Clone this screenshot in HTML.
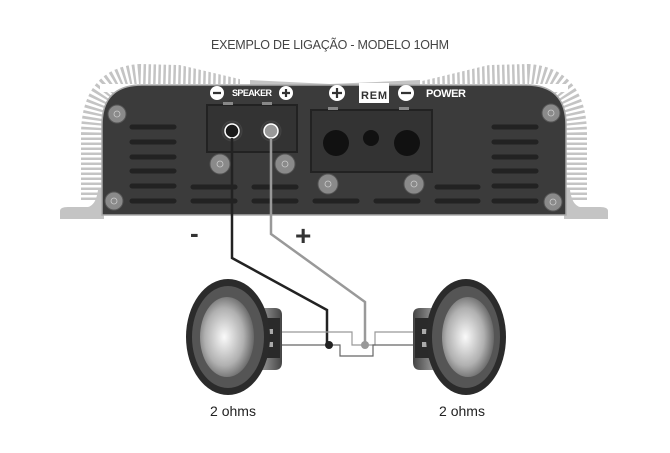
<!DOCTYPE html>
<html><head><meta charset="utf-8"><style>html,body{margin:0;padding:0;background:#fff}svg{display:block}</style></head>
<body>
<svg width="670" height="453" viewBox="0 0 670 453" xmlns="http://www.w3.org/2000/svg" font-family="Liberation Sans, sans-serif">
<defs>
<radialGradient id="cone" cx="0.45" cy="0.5" r="0.6"><stop offset="0" stop-color="#fafafa"/><stop offset="0.6" stop-color="#b0b0b0"/><stop offset="1" stop-color="#555"/></radialGradient>
<linearGradient id="mag" x1="0" y1="0" x2="1" y2="0"><stop offset="0" stop-color="#333"/><stop offset="0.5" stop-color="#999"/><stop offset="1" stop-color="#444"/></linearGradient>
<linearGradient id="mag2" x1="1" y1="0" x2="0" y2="0"><stop offset="0" stop-color="#333"/><stop offset="0.5" stop-color="#999"/><stop offset="1" stop-color="#444"/></linearGradient>
</defs>
<text x="211" y="49" font-size="12.5" fill="#444" textLength="238">EXEMPLO DE LIGAÇÃO - MODELO 1OHM</text>

<!-- fins -->
<g fill="none" stroke="#c4c4c4" stroke-dasharray="2.5 2.5">
<path d="M92 200 L92 135 Q92 78 140 75 L250 78" stroke-width="22"/>
<path d="M576 200 L576 135 Q576 78 528 75 L420 78" stroke-width="22"/>
</g>
<polygon points="150,58 252,58 252,82" fill="#fff"/>
<polygon points="518,58 418,58 418,82" fill="#fff"/>
<rect x="100" y="84" width="468" height="8" fill="#fff"/>
<rect x="240" y="64" width="180" height="22" fill="#fff"/>
<path d="M250 86 L250 80 L330 84 L420 80 L420 86Z" fill="#c4c4c4"/>
<!-- flanges -->
<path d="M60 219 L60 211 Q60 207 68 207 L88 207 Q96 205 98 190 L104 190 L104 219Z" fill="#c4c4c4"/>
<path d="M608 219 L608 211 Q608 207 600 207 L580 207 Q572 205 570 190 L564 190 L564 219Z" fill="#c4c4c4"/>
<!-- body -->
<path d="M102 215 L102 125 Q102 85 142 85 L526 85 Q566 85 566 125 L566 215Z" fill="#3b3b3b" stroke="#aaa" stroke-width="1.5"/>
<!-- vents -->
<g stroke="#222" stroke-width="5" stroke-linecap="round">
<path d="M132 127H174M132 142H174M132 157H174M132 171H174M132 186H174M132 201H174"/>
<path d="M494 127H536M494 142H536M494 157H536M494 171H536M494 186H536M494 201H536"/>
<path d="M193 187H235M254 187H296M437 187H478"/>
<path d="M193 201H235M254 201H296M315 201H357M376 201H418M437 201H478"/>
</g>
<!-- boxes -->
<rect x="207" y="105" width="90" height="47" fill="#333" stroke="#222" stroke-width="2"/>
<rect x="311" y="110" width="121" height="62" fill="#333" stroke="#222" stroke-width="2"/>
<g fill="#888"><rect x="223" y="102" width="10" height="3"/><rect x="262" y="102" width="10" height="3"/><rect x="328" y="107" width="10" height="3"/><rect x="399" y="107" width="10" height="3"/></g>
<circle cx="336" cy="143" r="13" fill="#111"/><circle cx="371" cy="138" r="8" fill="#111"/><circle cx="407" cy="143" r="13" fill="#111"/>
<circle cx="232" cy="131" r="10" fill="#3a3a3a" stroke="#444"/><circle cx="271" cy="131" r="10" fill="#3a3a3a" stroke="#444"/>
<circle cx="232" cy="131" r="7" fill="#1a1a1a" stroke="#fff" stroke-width="1.5"/>
<circle cx="271" cy="131" r="7" fill="#999" stroke="#fff" stroke-width="1.5"/>
<!-- screws -->
<g fill="#8a8a8a" stroke="#555" stroke-width="1">
<circle cx="117" cy="114" r="9"/><circle cx="114" cy="201" r="9"/><circle cx="551" cy="113" r="9"/><circle cx="553" cy="202" r="9"/>
<circle cx="220" cy="164" r="10"/><circle cx="285" cy="164" r="10"/><circle cx="328" cy="184" r="10"/><circle cx="414" cy="184" r="10"/>
</g>
<g fill="none" stroke="#ccc" stroke-width="0.8">
<circle cx="117" cy="114" r="3"/><circle cx="114" cy="201" r="3"/><circle cx="551" cy="113" r="3"/><circle cx="553" cy="202" r="3"/>
<circle cx="220" cy="164" r="3"/><circle cx="285" cy="164" r="3"/><circle cx="328" cy="184" r="3"/><circle cx="414" cy="184" r="3"/>
</g>
<!-- labels -->
<g fill="#fff"><circle cx="217" cy="93" r="7"/><circle cx="286" cy="93" r="7"/><circle cx="337" cy="93" r="8"/><circle cx="406" cy="93" r="8"/></g>
<g stroke="#333" stroke-width="2.2"><path d="M213 93H221M282 93H290M286 89V97M332 93H342M337 88V98M401 93H411"/></g>
<text x="232" y="96" font-size="9" font-weight="bold" fill="#fff" textLength="40">SPEAKER</text>
<rect x="359" y="83" width="30" height="20" fill="#fff"/>
<text x="361" y="99" font-size="11" font-weight="bold" fill="#333" textLength="26">REM</text>
<text x="426" y="97" font-size="11" font-weight="bold" fill="#fff" textLength="40">POWER</text>
<text x="190" y="242" font-size="26" font-weight="bold" fill="#333">-</text>
<text x="295" y="245" font-size="28" font-weight="bold" fill="#333">+</text>

<!-- wires -->
<path d="M232 138 V258 L327 310 V345" fill="none" stroke="#222" stroke-width="2.5"/>
<path d="M271 138 V234 L365 302 V345" fill="none" stroke="#999" stroke-width="2.5"/>
<g fill="none" stroke-width="1.2">
<path d="M280 332 H352 V345 H375 V332 H415" stroke="#999"/>
<path d="M280 345 H340 V356 H373 V345 H415" stroke="#666"/>
</g>
<circle cx="329" cy="345" r="4" fill="#222"/><circle cx="365" cy="345" r="4" fill="#999"/>

<!-- left speaker -->
<path d="M240 308 L275 308 Q282 308 282 315 L282 362 Q282 370 275 370 L240 370Z" fill="url(#mag)"/>
<rect x="262" y="318" width="18" height="40" fill="#2a2a2a"/>
<rect x="267" y="329" width="6" height="5" fill="#aaa"/><rect x="267" y="342" width="6" height="5" fill="#aaa"/>
<ellipse cx="228" cy="337" rx="42" ry="58" fill="#2b2b2b"/>
<ellipse cx="228" cy="337" rx="36" ry="51" fill="#555"/>
<ellipse cx="227" cy="337" rx="27" ry="40" fill="url(#cone)"/>
<!-- right speaker -->
<path d="M455 308 L420 308 Q413 308 413 315 L413 362 Q413 370 420 370 L455 370Z" fill="url(#mag2)"/>
<rect x="415" y="318" width="18" height="40" fill="#2a2a2a"/>
<rect x="422" y="329" width="6" height="5" fill="#aaa"/><rect x="422" y="342" width="6" height="5" fill="#aaa"/>
<ellipse cx="466" cy="337" rx="40" ry="58" fill="#2b2b2b"/>
<ellipse cx="466" cy="337" rx="34" ry="51" fill="#555"/>
<ellipse cx="468" cy="337" rx="26" ry="40" fill="url(#cone)"/>

<text x="233" y="416" font-size="14" fill="#222" text-anchor="middle">2 ohms</text>
<text x="462" y="416" font-size="14" fill="#222" text-anchor="middle">2 ohms</text>
</svg>
</body></html>
